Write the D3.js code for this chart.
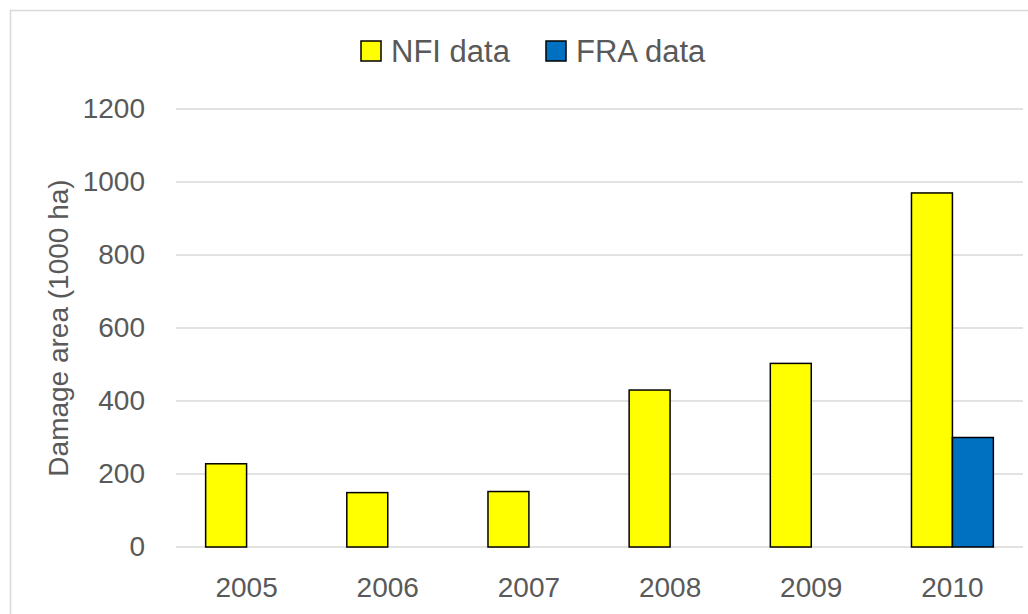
<!DOCTYPE html>
<html>
<head>
<meta charset="utf-8">
<script src="https://cdn.jsdelivr.net/npm/d3@7"></script>
<style>
  body { margin: 0; background: #fff; }
  text { font-family: "Liberation Sans", Arial, sans-serif; fill: #595959; }
</style>
</head>
<body>
<div id="chart"></div>
<script>
const years = ["2005", "2006", "2007", "2008", "2009", "2010"];
const seriesNames = ["NFI data", "FRA data"];
const nfiValues = [228, 149, 152, 430, 503, 970];
const fraValues = [null, null, null, null, null, 300];
const yTicks = [0, 200, 400, 600, 800, 1000, 1200];

const colours = { "NFI data": "#ffff00", "FRA data": "#0070c0" };

const size = {
  width: 1028,
  height: 614,
  left: 176,
  right: 1023,
  top: 109,
  bottom: 547
};

const rows = years.map((y, i) => ({ year: y, "NFI data": nfiValues[i], "FRA data": fraValues[i] }));

const svg = d3.select("#chart").append("svg")
  .attr("width", size.width)
  .attr("height", size.height);

// chart frame
svg.append("rect")
  .attr("x", 10.5).attr("y", 10.5)
  .attr("width", 1040).attr("height", 640)
  .attr("fill", "none")
  .attr("stroke", "#d9d9d9")
  .attr("stroke-width", 1.5);

const x0 = d3.scaleBand().domain(years).range([size.left, size.right])
  .paddingInner(0.42).paddingOuter(0.21);
const x1 = d3.scaleBand().domain(seriesNames).range([0, x0.bandwidth()]);
const y = d3.scaleLinear().domain([0, 1200]).range([size.bottom, size.top]);

// gridlines
svg.append("g")
  .selectAll("line")
  .data(yTicks)
  .join("line")
  .attr("x1", size.left).attr("x2", size.right)
  .attr("y1", d => y(d)).attr("y2", d => y(d))
  .attr("stroke", "#d9d9d9")
  .attr("stroke-width", 1.5);

// y axis
const yAxis = d3.axisLeft(y).tickValues(yTicks).tickFormat(d3.format("d")).tickSize(0).tickPadding(0);
svg.append("g")
  .attr("transform", `translate(145, 0)`)
  .call(yAxis)
  .call(g => g.select(".domain").remove())
  .selectAll("text")
  .style("font-size", "28px")
  .style("fill", "#595959");

// x axis
const xAxis = d3.axisBottom(x0).tickSize(0).tickPadding(0);
svg.append("g")
  .attr("transform", `translate(0, 577)`)
  .call(xAxis)
  .call(g => g.select(".domain").remove())
  .selectAll("text")
  .attr("dy", "0.71em")
  .style("font-size", "28px")
  .style("fill", "#595959");

svg.selectAll("g").attr("font-family", null).attr("font-size", null);

// bars
svg.append("g")
  .selectAll("g")
  .data(rows)
  .join("g")
  .attr("transform", d => `translate(${x0(d.year)}, 0)`)
  .selectAll("rect")
  .data(d => seriesNames.filter(s => d[s] != null).map(s => ({ key: s, value: d[s] })))
  .join("rect")
  .attr("x", d => x1(d.key))
  .attr("y", d => y(d.value))
  .attr("width", x1.bandwidth())
  .attr("height", d => y(0) - y(d.value))
  .attr("fill", d => colours[d.key])
  .attr("stroke", "#000")
  .attr("stroke-width", 1.5);

// y axis title
svg.append("text")
  .attr("transform", `translate(68, 328) rotate(-90)`)
  .attr("text-anchor", "middle")
  .style("font-size", "28px")
  .text("Damage area (1000 ha)");

// legend
const legend = svg.append("g");
const legendX = [361, 546];
seriesNames.forEach((s, i) => {
  legend.append("rect")
    .attr("x", legendX[i]).attr("y", 41)
    .attr("width", 20).attr("height", 20)
    .attr("fill", colours[s])
    .attr("stroke", "#000")
    .attr("stroke-width", 1.5);
  legend.append("text")
    .attr("x", legendX[i] + 30).attr("y", 51)
    .attr("dy", "0.35em")
    .style("font-size", "31px")
    .text(s);
});
</script>
</body>
</html>
